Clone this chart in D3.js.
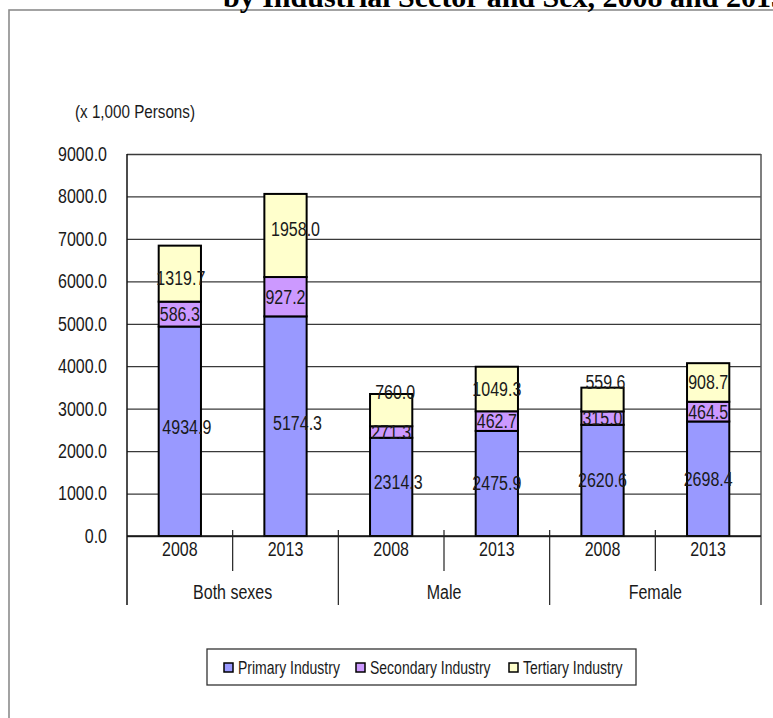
<!DOCTYPE html>
<html>
<head>
<meta charset="utf-8">
<script src="https://cdn.jsdelivr.net/npm/d3@7"></script>
<style>
  html, body { margin: 0; padding: 0; background: #fff; overflow: hidden; }
  svg { display: block; }
  .narrow { font-family: "Liberation Sans", Arial, sans-serif; fill: #1a1a1a; }
</style>
</head>
<body>
<svg id="chart" width="773" height="718"></svg>
<script>
// Employed persons (x 1,000) by industrial sector and sex
const groups = ["Both sexes", "Male", "Female"];
const years = ["2008", "2013"];
const seriesNames = ["Primary Industry", "Secondary Industry", "Tertiary Industry"];
const primary   = [4934.9, 5174.3, 2314.3, 2475.9, 2620.6, 2698.4];
const secondary = [586.3, 927.2, 271.3, 462.7, 315.0, 464.5];
const tertiary  = [1319.7, 1958.0, 760.0, 1049.3, 559.6, 908.7];
const yTicks = [0, 1000, 2000, 3000, 4000, 5000, 6000, 7000, 8000, 9000];

const colors = ["#9999ff", "#cc99ff", "#ffffcc"];
const W = 773, H = 718;
const plot = { left: 127, right: 761, top: 154, bottom: 536 };
const condense = 0.8;   // horizontal squeeze for the narrow sans text
// hand-placed label offsets [dx, lift], keyed "bar-series"
const labelShift = {
  "0-0": [7, 4], "1-0": [12, 3], "2-0": [7, 5],
  "0-2": [1, -4], "1-2": [10, 6], "2-2": [4, 18], "4-2": [3, 18]
};

const svg = d3.select("#chart");

// rows of the stack, one per (group, year)
const rows = [];
groups.forEach((g, gi) => years.forEach((yr, yi) => {
  const i = gi * years.length + yi;
  rows.push({ key: g + "|" + yr, group: g, year: yr,
    s0: primary[i], s1: secondary[i], s2: tertiary[i] });
}));
const stack = d3.stack().keys(["s0", "s1", "s2"]);
const layers = stack(rows);

const x = d3.scaleBand().domain(rows.map(r => r.key)).range([plot.left, plot.right]);
const y = d3.scaleLinear().domain([0, 9000]).range([plot.bottom, plot.top]);
const barW = x.bandwidth() * 0.4;
const barOff = (x.bandwidth() - barW) / 2;

// outer frame
svg.append("rect").attr("x", 9).attr("y", 10).attr("width", W + 20).attr("height", H + 20)
  .attr("fill", "none").attr("stroke", "#8c8c8c").attr("stroke-width", 1.6);

// title (sits partly above the frame)
svg.append("text").attr("x", 223).attr("y", 7)
  .attr("font-family", "'Liberation Serif', 'DejaVu Serif', serif")
  .attr("font-weight", "bold").attr("font-size", 30).attr("fill", "#000")
  .text("by Industrial Sector and Sex, 2008 and 2013");

// unit note
svg.append("text").attr("class", "narrow").attr("x", 75).attr("y", 118)
  .attr("font-size", 19).text("(x 1,000 Persons)");

// y axis with gridlines
const yAxis = svg.append("g").attr("transform", `translate(${plot.left},0)`)
  .call(d3.axisLeft(y).tickValues(yTicks).tickFormat(d3.format(".1f"))
    .tickSize(-(plot.right - plot.left)).tickPadding(20));
yAxis.select(".domain").remove();
yAxis.selectAll(".tick line").attr("stroke", "#3a3a3a").attr("stroke-width", 1.3);
yAxis.selectAll(".tick text").attr("class", "narrow").attr("font-size", 20)
  .attr("fill", "#1a1a1a");

// left and right plot borders, running down through the category rows
svg.append("line").attr("x1", plot.left).attr("x2", plot.left)
  .attr("y1", plot.top).attr("y2", 605).attr("stroke", "#111").attr("stroke-width", 1.5);
svg.append("line").attr("x1", plot.right).attr("x2", plot.right)
  .attr("y1", plot.top).attr("y2", 605).attr("stroke", "#555").attr("stroke-width", 1.5);

// bars
layers.forEach((layer, si) => {
  svg.append("g").selectAll("rect").data(layer).join("rect")
    .attr("x", d => x(d.data.key) + barOff)
    .attr("width", barW)
    .attr("y", d => y(d[1]))
    .attr("height", d => y(d[0]) - y(d[1]))
    .attr("fill", colors[si])
    .attr("stroke", "#000").attr("stroke-width", 2);
});

// x axis baseline
svg.append("line").attr("x1", plot.left).attr("x2", plot.right)
  .attr("y1", plot.bottom).attr("y2", plot.bottom).attr("stroke", "#111").attr("stroke-width", 1.5);

// value labels
layers.forEach((layer, si) => {
  svg.append("g").selectAll("text").data(layer).join("text")
    .attr("class", "narrow").attr("font-size", 20)
    .attr("text-anchor", "middle").attr("dominant-baseline", "central")
    .attr("x", (d, i) => x(d.data.key) + x.bandwidth() / 2 + (labelShift[i + "-" + si] || [0, 0])[0])
    .attr("y", (d, i) => (y(d[0]) + y(d[1])) / 2 - (labelShift[i + "-" + si] || [0, 0])[1])
    .text(d => d3.format(".1f")(d[1] - d[0]));
});

// year labels
const xAxis = svg.append("g").attr("transform", `translate(0,${plot.bottom})`)
  .call(d3.axisBottom(x).tickSize(0).tickPadding(12).tickFormat(k => k.split("|")[1]));
xAxis.select(".domain").remove();
xAxis.selectAll(".tick text").attr("class", "narrow").attr("font-size", 20)
  .attr("fill", "#1a1a1a").attr("dy", "0.4em");

// separators between years and between groups
const keys = x.domain();
keys.forEach((k, i) => {
  if (i === 0) return;
  const isGroupEdge = i % years.length === 0;
  svg.append("line").attr("x1", x(k)).attr("x2", x(k))
    .attr("y1", plot.bottom - 6).attr("y2", isGroupEdge ? 605 : 571)
    .attr("stroke", "#222").attr("stroke-width", 1.2);
});

// group labels
groups.forEach(g => {
  const first = x(g + "|" + years[0]);
  const last = x(g + "|" + years[years.length - 1]) + x.bandwidth();
  svg.append("text").attr("class", "narrow").attr("font-size", 20)
    .attr("text-anchor", "middle").attr("dominant-baseline", "central")
    .attr("x", (first + last) / 2).attr("y", 592).text(g);
});

// legend
const legend = svg.append("g");
legend.append("rect").attr("x", 207).attr("y", 649).attr("width", 429).attr("height", 36)
  .attr("fill", "#fff").attr("stroke", "#333").attr("stroke-width", 1.3);
const legendX = [224, 356, 509];
seriesNames.forEach((name, i) => {
  legend.append("rect").attr("x", legendX[i]).attr("y", 663).attr("width", 9).attr("height", 9)
    .attr("fill", colors[i]).attr("stroke", "#000").attr("stroke-width", 1.5);
  legend.append("text").attr("class", "narrow").attr("font-size", 17.5)
    .attr("x", legendX[i] + 14).attr("y", 668).attr("dominant-baseline", "central").text(name);
});

// squeeze the sans text horizontally to a narrow face
svg.selectAll("text.narrow").each(function () {
  const len = this.getComputedTextLength();
  d3.select(this).attr("textLength", len * condense).attr("lengthAdjust", "spacingAndGlyphs");
});
</script>
</body>
</html>
